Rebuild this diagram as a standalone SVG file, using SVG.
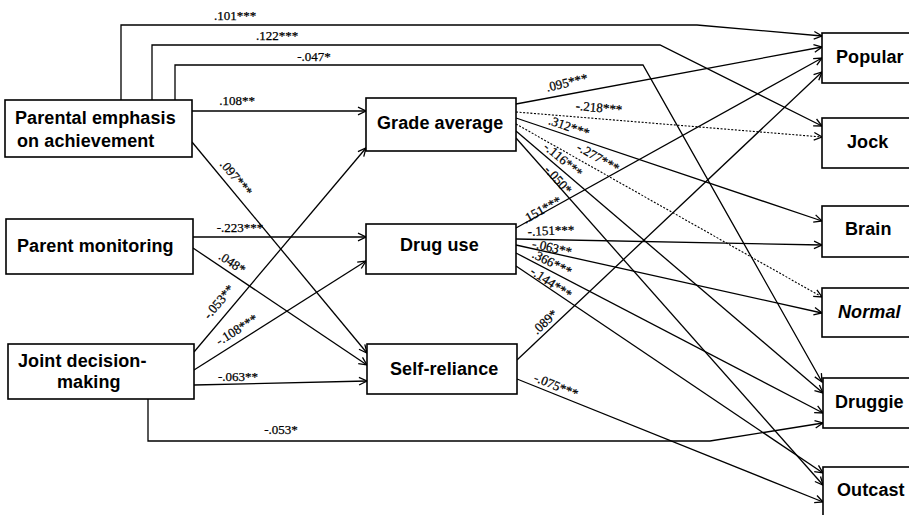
<svg xmlns="http://www.w3.org/2000/svg" width="909" height="515" viewBox="0 0 909 515">
<style>
.box{fill:#fff;stroke:#000;stroke-width:1.6}
.nt{font-family:"Liberation Sans",Arial,sans-serif;font-weight:bold;font-size:18px;letter-spacing:0.1px;fill:#000}
.c{fill:none;stroke:#000;stroke-width:1.3;marker-end:url(#a)}
.d{stroke-dasharray:2 1.6;stroke-width:1.1}
.lb{font-family:"Liberation Serif","Times New Roman",serif;font-size:13px;fill:#000;stroke:#000;stroke-width:0.25;text-anchor:middle}
</style>
<defs>
<marker id="a" markerWidth="10" markerHeight="10" refX="9" refY="5" orient="auto" markerUnits="userSpaceOnUse">
<path d="M1,1.2 L9,5 L1,8.8" fill="none" stroke="#000" stroke-width="1.3"/>
</marker>
</defs>
<rect width="909" height="515" fill="#fff"/>
<g id="connectors">
<path class="c" d="M121,100 V25 H697 L822,36"/>
<path class="c" d="M152,100 V45 H660 L822,126"/>
<path class="c" d="M175,100 V65 H643 L822,382"/>
<path class="c" d="M192,111 H366"/>
<path class="c" d="M192,142 L367,353"/>
<path class="c" d="M193,237 H366"/>
<path class="c" d="M193,248 L367,365"/>
<path class="c" d="M194,352 L366,148"/>
<path class="c" d="M194,370 L366,261"/>
<path class="c" d="M194,385 L367,381"/>
<path class="c" d="M148,399 V441 H710 L823,423"/>
<path class="c" d="M516,104 L822,47"/>
<path class="c d" d="M516,112 L822,137"/>
<path class="c" d="M516,118 L822,221"/>
<path class="c d" d="M516,124 L822,297"/>
<path class="c" d="M516,131 L823,393"/>
<path class="c" d="M516,138 L823,485"/>
<path class="c" d="M516,228 L822,58"/>
<path class="c" d="M516,239 L822,245"/>
<path class="c" d="M516,245 L822,313"/>
<path class="c" d="M516,253 L823,413"/>
<path class="c" d="M516,266 L823,473"/>
<path class="c" d="M517,360 L822,72"/>
<path class="c" d="M517,379 L823,502"/>
</g>
<g id="labels">
<text class="lb" x="235" y="20">.101***</text>
<text class="lb" x="277" y="40">.122***</text>
<text class="lb" x="314" y="61">-.047*</text>
<text class="lb" x="237" y="105">.108**</text>
<text class="lb" transform="translate(236,178) rotate(50)" y="4">.097***</text>
<text class="lb" x="240" y="232">-.223***</text>
<text class="lb" transform="translate(232,263) rotate(34)" y="4">.048*</text>
<text class="lb" transform="translate(219,302) rotate(-50)" y="4">-.053**</text>
<text class="lb" transform="translate(237,330) rotate(-32)" y="4">-.108***</text>
<text class="lb" x="238" y="381">-.063**</text>
<text class="lb" x="281" y="434">-.053*</text>
<text class="lb" transform="translate(567,83) rotate(-13)" y="4">.095***</text>
<text class="lb" transform="translate(599,108) rotate(5)" y="4">-.218***</text>
<text class="lb" transform="translate(569,127) rotate(19)" y="4">.312***</text>
<text class="lb" transform="translate(598,158) rotate(30)" y="4">-.277***</text>
<text class="lb" transform="translate(563,160) rotate(40)" y="4">-.116***</text>
<text class="lb" transform="translate(558,180) rotate(48)" y="4">-.050*</text>
<text class="lb" transform="translate(542,210) rotate(-29)" y="4">.151***</text>
<text class="lb" transform="translate(551,231) rotate(-2)" y="4">-.151***</text>
<text class="lb" transform="translate(552,248) rotate(13)" y="4">-.063**</text>
<text class="lb" transform="translate(552,263) rotate(27)" y="4">.366***</text>
<text class="lb" transform="translate(551,283) rotate(34)" y="4">-.144***</text>
<text class="lb" transform="translate(545,322) rotate(-43)" y="4">.089*</text>
<text class="lb" transform="translate(556,386) rotate(22)" y="4">-.075***</text>
</g>
<g id="n-parental-emphasis"><rect class="box" x="5" y="100" width="187" height="57"/><text class="nt" x="15" y="124">Parental emphasis</text><text class="nt" x="17" y="147">on achievement</text></g>
<g id="n-parent-monitoring"><rect class="box" x="6" y="219" width="187" height="55"/><text class="nt" x="17" y="252">Parent monitoring</text></g>
<g id="n-joint-decision"><rect class="box" x="8" y="344" width="186" height="55"/><text class="nt" x="18" y="367">Joint decision-</text><text class="nt" x="57" y="388">making</text></g>
<g id="n-grade-average"><rect class="box" x="366" y="98" width="150" height="53"/><text class="nt" x="377" y="129">Grade average</text></g>
<g id="n-drug-use"><rect class="box" x="366" y="224" width="150" height="50"/><text class="nt" x="400" y="251">Drug use</text></g>
<g id="n-self-reliance"><rect class="box" x="367" y="344" width="150" height="50"/><text class="nt" x="390" y="375">Self-reliance</text></g>
<g id="n-popular"><rect class="box" x="822" y="33" width="95" height="50"/><text class="nt" x="836" y="63">Popular</text></g>
<g id="n-jock"><rect class="box" x="822" y="118" width="95" height="50"/><text class="nt" x="847" y="148">Jock</text></g>
<g id="n-brain"><rect class="box" x="822" y="206" width="95" height="51"/><text class="nt" x="845" y="235">Brain</text></g>
<g id="n-normal"><rect class="box" x="822" y="288" width="95" height="49"/><text class="nt" x="838" y="318" font-style="italic">Normal</text></g>
<g id="n-druggie"><rect class="box" x="823" y="378" width="95" height="50"/><text class="nt" x="835" y="408">Druggie</text></g>
<g id="n-outcast"><rect class="box" x="823" y="467" width="95" height="60"/><text class="nt" x="837" y="496">Outcast</text></g>
</svg>
